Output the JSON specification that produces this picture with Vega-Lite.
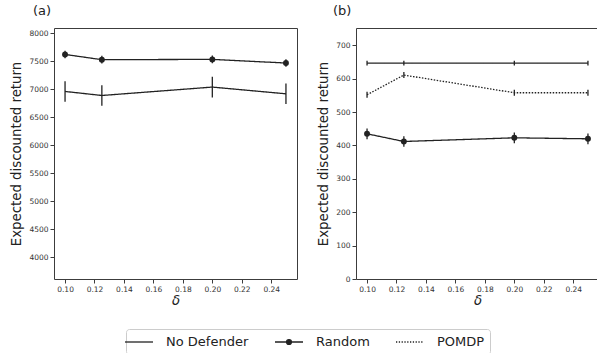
{
  "$schema": "https://vega.github.io/schema/vega-lite/v6.json",
  "padding": {"left": 9, "top": 4, "right": 0, "bottom": 0},
  "background": "white",
  "data": {"values": [
    {"panel": "a", "series": "Random", "delta": 0.1, "mean": 7618, "lo": 7552, "hi": 7684},
    {"panel": "a", "series": "Random", "delta": 0.125, "mean": 7525, "lo": 7455, "hi": 7595},
    {"panel": "a", "series": "Random", "delta": 0.2, "mean": 7530, "lo": 7462, "hi": 7598},
    {"panel": "a", "series": "Random", "delta": 0.25, "mean": 7465, "lo": 7398, "hi": 7532},
    {"panel": "a", "series": "No Defender", "delta": 0.1, "mean": 6958, "lo": 6774, "hi": 7142},
    {"panel": "a", "series": "No Defender", "delta": 0.125, "mean": 6886, "lo": 6702, "hi": 7070},
    {"panel": "a", "series": "No Defender", "delta": 0.2, "mean": 7036, "lo": 6852, "hi": 7220},
    {"panel": "a", "series": "No Defender", "delta": 0.25, "mean": 6916, "lo": 6732, "hi": 7100},
    {"panel": "b", "series": "No Defender", "delta": 0.1, "mean": 647, "lo": 640, "hi": 654},
    {"panel": "b", "series": "No Defender", "delta": 0.125, "mean": 647, "lo": 640, "hi": 654},
    {"panel": "b", "series": "No Defender", "delta": 0.2, "mean": 647, "lo": 640, "hi": 654},
    {"panel": "b", "series": "No Defender", "delta": 0.25, "mean": 647, "lo": 640, "hi": 654},
    {"panel": "b", "series": "POMDP", "delta": 0.1, "mean": 552, "lo": 543, "hi": 561},
    {"panel": "b", "series": "POMDP", "delta": 0.125, "mean": 611, "lo": 602, "hi": 620},
    {"panel": "b", "series": "POMDP", "delta": 0.2, "mean": 558, "lo": 549, "hi": 567},
    {"panel": "b", "series": "POMDP", "delta": 0.25, "mean": 558, "lo": 549, "hi": 567},
    {"panel": "b", "series": "Random", "delta": 0.1, "mean": 435, "lo": 419, "hi": 451},
    {"panel": "b", "series": "Random", "delta": 0.125, "mean": 412, "lo": 396, "hi": 428},
    {"panel": "b", "series": "Random", "delta": 0.2, "mean": 423, "lo": 407, "hi": 439},
    {"panel": "b", "series": "Random", "delta": 0.25, "mean": 420, "lo": 404, "hi": 436}
  ]},
  "spacing": 18,
  "hconcat": [
    {
      "width": 243, "height": 251,
      "title": {"text": "(a)", "anchor": "start", "frame": "bounds", "align": "left", "offset": 10, "fontSize": 13, "fontWeight": "normal", "color": "#222", "dx": 23},
      "transform": [{"filter": "datum.panel === 'a'"}],
      "encoding": {
        "x": {"field": "delta", "type": "quantitative", "scale": {"domain": [0.0925, 0.2575], "nice": false, "zero": false},
              "axis": {"title": "δ", "values": [0.1, 0.12, 0.14, 0.16, 0.18, 0.2, 0.22, 0.24], "format": ".2f", "titleFontStyle": "italic"}},
        "y": {"field": "mean", "type": "quantitative", "scale": {"domain": [3612, 8090], "nice": false, "zero": false},
              "axis": {"title": "Expected discounted return", "values": [4000, 4500, 5000, 5500, 6000, 6500, 7000, 7500, 8000], "format": "d", "labelOverlap": false}}
      },
      "layer": [
        {"mark": {"type": "rule", "color": "#222", "strokeWidth": 1.3},
         "encoding": {"y": {"field": "lo", "type": "quantitative"}, "y2": {"field": "hi"}}},
        {"mark": {"type": "line", "color": "#222", "strokeWidth": 1.3},
         "encoding": {
           "strokeDash": {"field": "series", "type": "nominal", "scale": {"domain": ["POMDP", "No Defender", "Random"], "range": [[1.5, 1.5], [1, 0], [1, 0]]}, "legend": null}}},
        {"transform": [{"filter": "datum.series === 'Random'"}],
         "mark": {"type": "point", "filled": true, "color": "#222", "size": 35, "opacity": 1},
         "encoding": {}}
      ]
    },
    {
      "width": 243, "height": 251,
      "title": {"text": "(b)", "anchor": "start", "frame": "group", "offset": 10, "fontSize": 13, "fontWeight": "normal", "color": "#222", "dx": -23},
      "transform": [{"filter": "datum.panel === 'b'"}],
      "encoding": {
        "x": {"field": "delta", "type": "quantitative", "scale": {"domain": [0.0925, 0.2575], "nice": false, "zero": false},
              "axis": {"title": "δ", "values": [0.1, 0.12, 0.14, 0.16, 0.18, 0.2, 0.22, 0.24], "format": ".2f", "titleFontStyle": "italic"}},
        "y": {"field": "mean", "type": "quantitative", "scale": {"domain": [0, 752], "nice": false, "zero": false},
              "axis": {"title": "Expected discounted return", "values": [0, 100, 200, 300, 400, 500, 600, 700], "format": "d", "labelOverlap": false}}
      },
      "layer": [
        {"mark": {"type": "rule", "color": "#222", "strokeWidth": 1.3},
         "encoding": {"y": {"field": "lo", "type": "quantitative"}, "y2": {"field": "hi"}}},
        {"mark": {"type": "line", "color": "#222", "strokeWidth": 1.3},
         "encoding": {
           "strokeDash": {"field": "series", "type": "nominal", "scale": {"domain": ["POMDP", "No Defender", "Random"], "range": [[1.5, 1.5], [1, 0], [1, 0]]}, "legend": null}}},
        {"transform": [{"filter": "datum.series === 'Random'"}],
         "mark": {"type": "point", "filled": true, "color": "#222", "size": 35, "opacity": 1},
         "encoding": {}},
        {"mark": {"type": "point", "filled": true, "color": "#222", "stroke": "#222", "strokeWidth": 1.3, "opacity": 0},
         "encoding": {
           "shape": {"field": "series", "type": "nominal",
             "scale": {"domain": ["No Defender", "Random", "POMDP"],
                       "range": ["M-2,0H2", "M-2,0H2M0.35,0A0.35,0.35,0,1,1,-0.35,0A0.35,0.35,0,1,1,0.35,0Z", "M-2,0h0.18M-1.6,0h0.18M-1.2,0h0.18M-0.8,0h0.18M-0.4,0h0.18M0,0h0.18M0.4,0h0.18M0.8,0h0.18M1.2,0h0.18M1.6,0h0.18"]},
             "legend": {"title": null, "orient": "none", "legendX": 72, "legendY": 301, "direction": "horizontal", "symbolOpacity": 1}}}}
      ]
    }
  ],
  "config": {
    "font": "DejaVu Sans",
    "view": {"stroke": "#3c3c3c", "strokeWidth": 1},
    "axis": {"grid": false, "domain": false, "tickSize": 4, "tickColor": "#3c3c3c", "tickWidth": 1, "labelFontSize": 7.5, "labelColor": "#333", "labelPadding": 2, "titleFontSize": 13.3, "titleFontWeight": "normal", "titleColor": "#222", "titlePadding": 5, "labelFont": "DejaVu Sans", "titleFont": "DejaVu Sans"},
    "axisX": {"titlePadding": 1},
    "legend": {"labelFontSize": 13, "labelColor": "#222", "labelFont": "DejaVu Sans", "symbolSize": 196, "symbolStrokeWidth": 1.3, "labelOffset": 19, "columnPadding": 23, "padding": 5, "strokeColor": "#cccccc", "cornerRadius": 3, "fillColor": "white"}
  }
}
